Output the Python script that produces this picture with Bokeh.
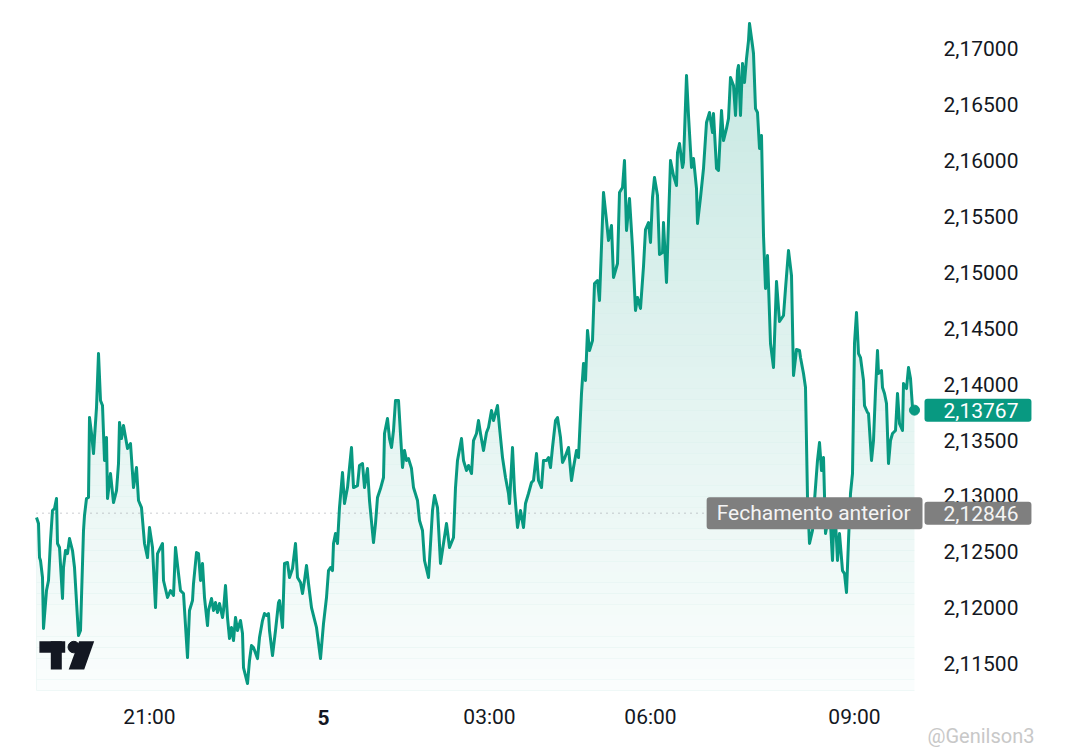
from bokeh.plotting import figure
from bokeh.models import Range1d, FixedTicker, CustomJSTickFormatter, Label
from bokeh.embed import file_html
from bokeh.resources import INLINE

# ---------------- data ----------------
bar_index = [0, 2, 3, 4, 6, 7, 10, 12, 14, 16, 18, 20, 21, 23, 26, 27, 29, 31, 33, 36, 38, 42, 44, 47, 48, 50, 52, 53, 55, 57,
             58, 60, 62, 64, 66, 68, 70, 71, 74, 77, 80, 82, 83, 85, 87, 91, 94, 97, 100, 102, 105, 108, 111, 113, 116, 119, 121, 126, 127, 131,
             134, 137, 139, 142, 144, 147, 151, 153, 156, 157, 160, 162, 164, 166, 168, 171, 172, 175, 177, 179, 181, 183, 186, 187, 189, 191, 193, 195, 197, 199,
             201, 204, 206, 207, 211, 213, 215, 217, 221, 223, 226, 228, 230, 232, 233, 236, 239, 242, 243, 246, 248, 251, 253, 256, 259, 261, 264, 266, 268, 270,
             272, 275, 277, 280, 284, 287, 290, 292, 294, 296, 297, 299, 301, 303, 306, 308, 311, 315, 317, 321, 323, 326, 328, 331, 333, 337, 339, 341, 344, 347,
             348, 351, 353, 355, 357, 359, 362, 366, 368, 370, 372, 375, 377, 381, 383, 386, 388, 392, 396, 398, 401, 404, 407, 410, 413, 417, 419, 421, 425, 427,
             430, 432, 435, 437, 440, 442, 444, 447, 450, 452, 455, 457, 461, 463, 466, 469, 472, 473, 476, 478, 481, 484, 487, 489, 492, 495, 497, 500, 502, 505,
             507, 510, 512, 514, 516, 519, 521, 524, 526, 528, 532, 535, 537, 540, 542, 545, 547, 549, 551, 553, 556, 558, 561, 563, 567, 570, 572, 575, 577, 581,
             583, 586, 588, 590, 593, 596, 599, 601, 604, 607, 609, 612, 614, 616, 618, 621, 623, 626, 627, 630, 634, 637, 640, 641, 643, 646, 647, 650, 652, 655,
             657, 660, 661, 664, 667, 670, 673, 676, 677, 680, 682, 685, 687, 690, 692, 694, 697, 699, 701, 702, 704, 706, 708, 710, 712, 713, 716, 717, 719, 721,
             723, 725, 727, 729, 731, 734, 737, 740, 743, 747, 749, 752, 755, 757, 760, 763, 764, 767, 769, 771, 773, 776, 778, 781, 783, 785, 787, 789, 792, 794,
             796, 798, 801, 803, 806, 808, 810, 812, 814, 816, 818, 820, 822, 824, 827, 828, 831, 832, 835, 837, 839, 841, 842, 845, 846, 848, 850, 852, 854, 856,
             859, 861, 863, 866, 867, 870, 872, 874, 876, 878]

close_price = [2.12807, 2.12753, 2.12449, 2.12423, 2.12271, 2.11815, 2.12154, 2.12244, 2.12601, 2.12870, 2.12888, 2.12977, 2.12575, 2.12539, 2.12083, 2.12360, 2.12512, 2.12485, 2.12619, 2.12512, 2.12360, 2.11752, 2.11797, 2.12691, 2.12825, 2.12977, 2.12986, 2.13701, 2.13558, 2.13379,
               2.13522, 2.13790, 2.14273, 2.13853, 2.13808, 2.13317, 2.13522, 2.12977, 2.13200, 2.12941, 2.13048, 2.13290, 2.13656, 2.13513, 2.13629, 2.13424, 2.13469, 2.13075, 2.13254, 2.12959, 2.12896, 2.12575, 2.12449, 2.12718, 2.12539, 2.12002, 2.12485, 2.12575, 2.12244, 2.12092,
               2.12154, 2.12110, 2.12539, 2.12306, 2.12154, 2.12128, 2.11555, 2.11976, 2.12065, 2.12217, 2.12494, 2.12485, 2.12244, 2.12396, 2.12092, 2.11841, 2.11976, 2.12083, 2.11976, 2.12047, 2.11958, 2.12038, 2.11913, 2.11976, 2.12199, 2.11913, 2.11725, 2.11824, 2.11707, 2.11913,
               2.11797, 2.11886, 2.11770, 2.11466, 2.11323, 2.11529, 2.11663, 2.11645, 2.11546, 2.11734, 2.11886, 2.11949, 2.11931, 2.11949, 2.11797, 2.11573, 2.11797, 2.12047, 2.12065, 2.11824, 2.12396, 2.12405, 2.12271, 2.12351, 2.12575, 2.12271, 2.12226, 2.12128, 2.12244, 2.12378,
               2.12217, 2.12002, 2.11931, 2.11824, 2.11546, 2.11859, 2.12092, 2.12333, 2.12360, 2.12333, 2.12575, 2.12664, 2.12575, 2.12896, 2.13209, 2.12932, 2.13075, 2.13433, 2.13075, 2.13093, 2.13272, 2.13290, 2.13075, 2.13245, 2.12959, 2.12583, 2.12753, 2.12986, 2.13066, 2.13165,
               2.13558, 2.13692, 2.13513, 2.13433, 2.13585, 2.13853, 2.13853, 2.13254, 2.13406, 2.13317, 2.13334, 2.13245, 2.13075, 2.12959, 2.12780, 2.12691, 2.12423, 2.12271, 2.12870, 2.13004, 2.12896, 2.12396, 2.12575, 2.12753, 2.12539, 2.12628, 2.13075, 2.13317, 2.13513, 2.13317,
               2.13227, 2.13272, 2.13200, 2.13495, 2.13558, 2.13674, 2.13558, 2.13406, 2.13567, 2.13612, 2.13764, 2.13674, 2.13808, 2.13612, 2.13343, 2.13165, 2.13022, 2.12932, 2.13433, 2.13048, 2.12718, 2.12870, 2.12718, 2.12932, 2.13022, 2.13120, 2.13138, 2.13379, 2.13138, 2.13075,
               2.13317, 2.13317, 2.13343, 2.13254, 2.13433, 2.13674, 2.13701, 2.13522, 2.13299, 2.13334, 2.13433, 2.13138, 2.13254, 2.13406, 2.13343, 2.13916, 2.14184, 2.14032, 2.14479, 2.14300, 2.14389, 2.14899, 2.14926, 2.14747, 2.15713, 2.15462, 2.15283, 2.15418, 2.14953, 2.15078,
               2.15713, 2.15757, 2.15999, 2.15373, 2.15659, 2.15221, 2.14658, 2.14774, 2.14676, 2.15051, 2.15382, 2.15444, 2.15266, 2.15668, 2.15847, 2.15686, 2.15158, 2.15176, 2.15444, 2.14908, 2.15999, 2.15865, 2.15775, 2.16070, 2.16151, 2.15936, 2.15981, 2.16759, 2.16401, 2.15936,
               2.16017, 2.15748, 2.15435, 2.15668, 2.15927, 2.16338, 2.16428, 2.16249, 2.16419, 2.15927, 2.15909, 2.16446, 2.16177, 2.16285, 2.16374, 2.16741, 2.16669, 2.16401, 2.16803, 2.16848, 2.16401, 2.16866, 2.16696, 2.16910, 2.17071, 2.17223, 2.17027, 2.16955, 2.16463, 2.16428,
               2.16106, 2.16222, 2.15328, 2.14854, 2.15149, 2.14363, 2.14148, 2.14917, 2.14559, 2.14613, 2.14854, 2.15194, 2.14970, 2.14076, 2.14309, 2.14300, 2.14237, 2.14094, 2.13969, 2.12986, 2.12575, 2.12691, 2.12959, 2.13317, 2.13477, 2.13227, 2.13343, 2.12664, 2.12807, 2.12753,
               2.12423, 2.12959, 2.12423, 2.12664, 2.12333, 2.12306, 2.12137, 2.12601, 2.13022, 2.13200, 2.14363, 2.14640, 2.14273, 2.14237, 2.14032, 2.13808, 2.13746, 2.13737, 2.13317, 2.13495, 2.13942, 2.14300, 2.14094, 2.14121, 2.13969, 2.13916, 2.13826, 2.13290, 2.13495, 2.13558,
               2.13585, 2.13916, 2.13647, 2.13585, 2.14005, 2.13960, 2.14148, 2.14050, 2.13790, 2.13767]

x_tick_positions = [113, 287, 453, 614, 818]
x_tick_labels = ["21:00", "5", "03:00", "06:00", "09:00"]
bold_tick_labels = ["5"]
y_ticks = [2.115, 2.120, 2.125, 2.130, 2.135, 2.140, 2.145, 2.150, 2.155, 2.160, 2.165, 2.170]
previous_close = 2.12846
previous_close_text = "Fechamento anterior"
watermark_text = "@Genilson3"

# ---------------- layout / styling constants ----------------
GREEN = "#089981"
TEXT = "#131722"
FONT = "Roboto"
W, H = 1072, 748
PX_PER_UNIT = 744 / (2.17429 - 2.10778)
# the chart pane (where the area lives) in data units
PANE_X0, PANE_X1 = 0, 886
PANE_Y0 = 2.11260
# the whole canvas is the frame; pane sits inside it
X_RANGE = (-36, 1036)
Y_RANGE = (2.17429 - H / PX_PER_UNIT, 2.17429)


def y_at_px_below_pane(px):
    """data y that lies px pixels below the pane bottom"""
    return PANE_Y0 - px / PX_PER_UNIT


def fmt(v):
    return f"{v:.5f}".replace(".", ",")


p = figure(width=W, height=H,
           x_range=Range1d(*X_RANGE), y_range=Range1d(*Y_RANGE),
           y_axis_location="right", toolbar_location=None, output_backend="svg",
           min_border_left=0, min_border_right=0, min_border_top=0, min_border_bottom=0)
p.grid.visible = False
p.outline_line_color = None
p.background_fill_color = "white"
p.border_fill_color = "white"

# area fill with a vertical fade
p.varea(x=bar_index, y1=PANE_Y0, y2=close_price, fill_color=GREEN, fill_alpha=0.24)
n_bands = 64
band_h = (Y_RANGE[1] - PANE_Y0) / n_bands
bottoms = [PANE_Y0 + i * band_h for i in range(n_bands)]
tops = [b + band_h for b in bottoms]
alphas = []
for i in range(n_bands):
    t = (i + 0.5) / n_bands
    eff = 0.02 + 0.22 * t
    alphas.append(1 - eff / 0.24)
p.quad(left=PANE_X0, right=PANE_X1, bottom=bottoms, top=tops, fill_color="white",
       fill_alpha=alphas, line_color=None)

# previous close dotted line
p.segment(x0=[PANE_X0], x1=[PANE_X1], y0=[previous_close], y1=[previous_close],
          line_color="#9598a1", line_width=1, line_dash="1 5")

# price line and last point
p.line(bar_index, close_price, line_color=GREEN, line_width=3, line_join="round")
p.scatter([bar_index[-1]], [close_price[-1]], size=10, color=GREEN)

# TradingView-style logo (decoration)
LOGO = "#131722"
p.quad(left=2.9, right=28.7, top=2.11702, bottom=2.11598, fill_color=LOGO, line_color=None)
p.quad(left=14.3, right=25.3, top=2.11702, bottom=2.11449, fill_color=LOGO, line_color=None)
p.scatter([37.3], [2.11649], size=11.5, color=LOGO)
p.patch([42.5, 57.7, 47.7, 32.2], [2.11702, 2.11702, 2.11449, 2.11449], fill_color=LOGO, line_color=None)

# x axis (drawn at the pane bottom)
xa = p.xaxis[0]
xa.fixed_location = PANE_Y0
xa.ticker = FixedTicker(ticks=x_tick_positions)
xa.major_label_overrides = {pos: ("" if lab in bold_tick_labels else lab)
                            for pos, lab in zip(x_tick_positions, x_tick_labels)}
xa.axis_line_color = None
xa.major_tick_line_color = None
xa.minor_tick_line_color = None
xa.major_tick_out = 0
xa.major_tick_in = 0
xa.major_label_text_font = FONT
xa.major_label_text_font_size = "21px"
xa.major_label_text_color = TEXT
xa.major_label_standoff = 14

for pos, lab in zip(x_tick_positions, x_tick_labels):
    if lab in bold_tick_labels:
        p.add_layout(Label(x=pos, y=y_at_px_below_pane(27), text=lab, text_align="center",
                           text_baseline="middle", text_font=FONT, text_font_size="21px",
                           text_font_style="bold", text_color=TEXT))

# y axis (right of the pane)
ya = p.yaxis[0]
ya.fixed_location = PANE_X1
ya.ticker = FixedTicker(ticks=y_ticks)
ya.formatter = CustomJSTickFormatter(code="return tick.toFixed(5).replace('.', ',');")
ya.axis_line_color = None
ya.major_tick_line_color = None
ya.minor_tick_line_color = None
ya.major_tick_out = 0
ya.major_tick_in = 0
ya.major_label_text_font = FONT
ya.major_label_text_font_size = "21px"
ya.major_label_text_color = TEXT
ya.major_label_standoff = 21

# price tags
p.add_layout(Label(x=PANE_X1 + 2, y=close_price[-1], text=fmt(close_price[-1]), text_align="left",
                   text_baseline="middle", text_font=FONT, text_font_size="21px", text_color="white",
                   background_fill_color=GREEN, padding=dict(left=19, right=13, top=4, bottom=4),
                   border_radius=3))
p.add_layout(Label(x=PANE_X1 + 2, y=previous_close, text=fmt(previous_close), text_align="left",
                   text_baseline="middle", text_font=FONT, text_font_size="21px", text_color="#f4f4f4",
                   background_fill_color="#7f7f7f", padding=dict(left=19, right=13, top=4, bottom=4),
                   border_radius=3))
p.add_layout(Label(x=PANE_X1, y=previous_close, text=previous_close_text, text_align="right",
                   text_baseline="middle", text_font=FONT, text_font_size="21px", text_color="#f4f4f4",
                   background_fill_color="#7f7f7f", padding=dict(left=10, right=12, top=4, bottom=4),
                   border_radius=3))

# watermark
p.add_layout(Label(x=PANE_X1 + 5, y=y_at_px_below_pane(45), text=watermark_text, text_align="left",
                   text_baseline="middle", text_font=FONT, text_font_size="20px",
                   text_color="#c8c8c8"))

open("out.html", "w").write(file_html(p, INLINE))
